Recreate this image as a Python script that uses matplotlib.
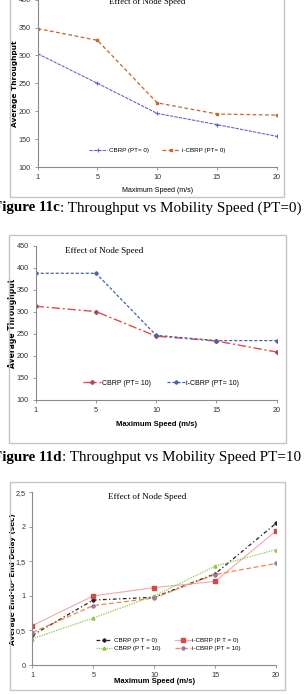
import numpy as np
import matplotlib
matplotlib.use('Agg')
import matplotlib.pyplot as plt
from matplotlib.patches import Rectangle

W, H = 307, 694

speeds = ['1', '5', '10', '15', '20']

# Figure 11c - throughput, PT=0
cbrp_pt0_thr = [303, 250, 196, 176, 155]
icbrp_pt0_thr = [348, 327, 215, 195, 193]

# Figure 11d - throughput, PT=10
cbrp_pt10_thr = [313, 301, 245, 234, 209]
icbrp_pt10_thr = [388, 388, 247, 235, 235]

# Delay chart
cbrp_pt0_delay = [0.43, 0.94, 0.98, 1.32, 2.05]
icbrp_pt0_delay = [0.57, 1.00, 1.12, 1.21, 1.94]
cbrp_pt10_delay = [0.38, 0.68, 1.00, 1.43, 1.67]
icbrp_pt10_delay = [0.47, 0.86, 0.97, 1.31, 1.47]

sans = ['Liberation Sans Narrow', 'Liberation Sans', 'DejaVu Sans']
serif = ['Liberation Serif', 'DejaVu Serif']
plt.rcParams['font.family'] = sans

fig = plt.figure(figsize=(W / 100, H / 100), dpi=100)
fig.patch.set_facecolor('white')


def px_axes(left, top, right, bottom):
    return fig.add_axes([left / W, 1 - bottom / H, (right - left) / W, (bottom - top) / H])


def frame(left, top, right, bottom):
    fig.patches.append(Rectangle((left / W, 1 - bottom / H), (right - left) / W, (bottom - top) / H,
                                 transform=fig.transFigure, fill=False, edgecolor='#c4c4c4', lw=1.0))


def style(ax):
    for s in ['top', 'right']:
        ax.spines[s].set_visible(False)
    for s in ['left', 'bottom']:
        ax.spines[s].set_color('#8a8a8a')
        ax.spines[s].set_linewidth(0.8)
    ax.tick_params(colors='#8a8a8a', labelcolor='#333333', labelsize=5.2, length=2.5, width=0.6, pad=2.5)
    ax.set_xlim(0, 4)
    ax.set_xticks(range(len(speeds)))
    ax.set_xticklabels(speeds)
    ax.patch.set_alpha(0)


def caption(x, y, bold, rest):
    t = fig.text(x / W, 1 - y / H, bold, fontsize=10.9, fontweight='bold', family=serif, va='center')
    fig.canvas.draw()
    bb = t.get_window_extent()
    fig.text(bb.x1 / W, 1 - y / H, rest, fontsize=10.9, family=serif, va='center')


x = np.arange(len(speeds))

# ---------- chart 1 ----------
frame(10, -5, 284, 197)
ax1 = px_axes(37.7, -0.4, 276.7, 167)
style(ax1)
ax1.plot(x, cbrp_pt0_thr, color='#6f5fd0', lw=0.8, ls=(0, (3, 1)), marker='+', ms=3, mew=0.8,
         label='CBRP (PT= 0)')
ax1.plot(x, icbrp_pt0_thr, color='#c8642a', lw=0.9, ls=(0, (3, 2)), marker='s', ms=2, label='i-CBRP (PT= 0)')
ax1.set_ylim(100, 400)
ax1.set_yticks(range(100, 401, 50))
ax1.set_ylabel('Average Throughput', fontsize=5.3, fontweight='bold', family=['DejaVu Sans'])
ax1.yaxis.set_label_coords(-20 / 239, 0.5)
ax1.set_xlabel('Maximum Speed (m/s)', fontsize=5, labelpad=4)
ax1.text(0.46, 0.985, 'Effect of Node Speed', transform=ax1.transAxes, family=serif, fontsize=6.3,
         ha='center', va='center')
ax1.legend(loc='center', bbox_to_anchor=(0.5, 0.1), ncol=2, frameon=False, fontsize=4.5,
           handlelength=2.8, columnspacing=2.2, handletextpad=0.3)
caption(-7, 208, 'Figure 11c', ': Throughput vs Mobility Speed (PT=0)')

# ---------- chart 2 ----------
frame(9, 235, 286, 443)
ax2 = px_axes(35.7, 246, 276.7, 400)
style(ax2)
ax2.plot(x, cbrp_pt10_thr, color='#e8484a', lw=1.0, ls=(0, (6, 2, 1.5, 2)), marker='D', ms=2,
         mfc='#a04a70', mec='#a04a70', label='CBRP (PT= 10)')
ax2.plot(x, icbrp_pt10_thr, color='#4a62a8', lw=0.9, ls=(0, (2.5, 1.5)), marker='D', ms=1.8,
         label='i-CBRP (PT= 10)')
ax2.set_ylim(100, 450)
ax2.set_yticks(range(100, 451, 50))
ax2.set_ylabel('Average Throughput', fontsize=5.5, fontweight='bold', family=['DejaVu Sans'])
ax2.yaxis.set_label_coords(-19 / 241, 0.5)
ax2.set_xlabel('Maximum Speed (m/s)', fontsize=5.5, fontweight='bold', labelpad=5)
ax2.text(0.12, 0.97, 'Effect of Node Speed', transform=ax2.transAxes, family=serif, fontsize=6.5,
         ha='left', va='center')
ax2.legend(loc='center', bbox_to_anchor=(0.52, 0.11), ncol=2, frameon=False, fontsize=5,
           handlelength=2.6, columnspacing=2.2, handletextpad=0.2)
caption(-7, 457, 'Figure 11d', ': Throughput vs Mobility Speed PT=10')

# ---------- chart 3 ----------
frame(10, 482, 285, 690)
ax3 = px_axes(32.3, 492.3, 276, 665)
style(ax3)
l1, = ax3.plot(x, cbrp_pt0_delay, color='#222222', lw=0.9, ls=(0, (3, 2, 1, 2)), marker='D', ms=1.8,
               label='CBRP (P T = 0)')
l2, = ax3.plot(x, icbrp_pt0_delay, color='#eeaaaa', lw=0.8, ls='-', marker='s', ms=2.4,
               mfc='#d24a4a', mec='#d24a4a', label='i-CBRP (P T = 0)')
l3, = ax3.plot(x, cbrp_pt10_delay, color='#8cc84a', lw=0.9, ls=(0, (1, 1)), marker='^', ms=2.2,
               label='CBRP (P T = 10)')
l4, = ax3.plot(x, icbrp_pt10_delay, color='#f0884a', lw=0.9, ls=(0, (4, 2)), marker='o', ms=2.2,
               mfc='#9a78a8', mec='#9a78a8', label='i-CBRP (PT = 10)')
ax3.set_ylim(0, 2.5)
ax3.set_yticks([0, 0.5, 1, 1.5, 2, 2.5])
ax3.set_yticklabels(['0', '0,5', '1', '1,5', '2', '2,5'])
ax3.set_ylabel('Average End-to- End Delay (sec)', fontsize=5.2, fontweight='bold', family=['DejaVu Sans'])
ax3.yaxis.set_label_coords(-16.5 / 243.7, 0.5)
ax3.set_xlabel('Maximum Speed (m/s)', fontsize=5.5, fontweight='bold', labelpad=-1)
ax3.text(0.47, 0.97, 'Effect of Node Speed', transform=ax3.transAxes, family=serif, fontsize=6.5,
         ha='center', va='center')
ax3.legend(handles=[l1, l3, l2, l4], loc='center', bbox_to_anchor=(0.56, 0.12), ncol=2, frameon=False,
           fontsize=4.5, handlelength=2.5, columnspacing=2.3, handletextpad=0.3, labelspacing=0.5)

fig.savefig('out.png', dpi=100)
